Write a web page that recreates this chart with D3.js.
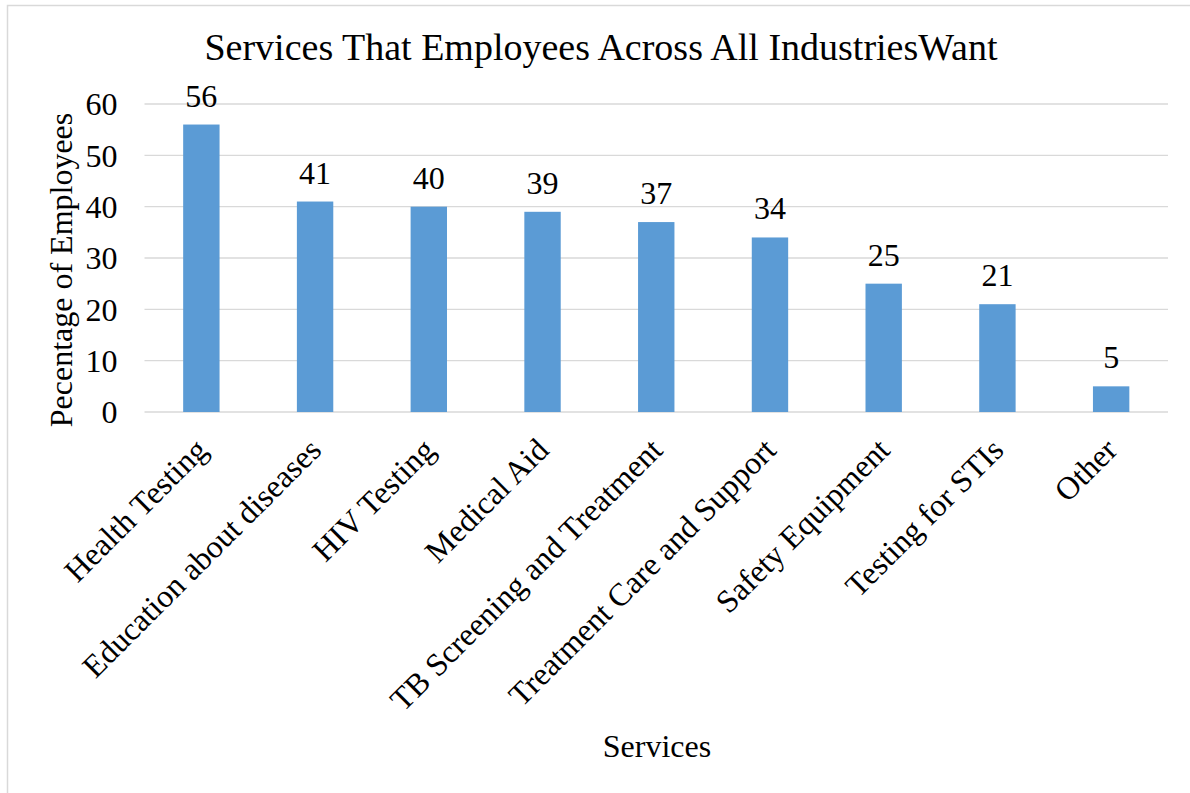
<!DOCTYPE html>
<html>
<head>
<meta charset="utf-8">
<script src="https://cdn.jsdelivr.net/npm/d3@7"></script>
<style>
  html, body { margin: 0; padding: 0; background: #fff; }
  svg { display: block; }
</style>
</head>
<body>
<svg id="chart" width="1190" height="793"></svg>
<script>
const categories = ["Health Testing", "Education about diseases", "HIV Testing", "Medical Aid",
  "TB Screening and Treatment", "Treatment Care and Support", "Safety Equipment", "Testing for STIs", "Other"];
const values = [56, 41, 40, 39, 37, 34, 25, 21, 5];
const yTicks = [0, 10, 20, 30, 40, 50, 60];
const titleText = "Services That Employees Across All IndustriesWant";
const xTitle = "Services";
const yTitle = "Pecentage of Employees";

(function () {
const FONT = '"Liberation Serif", "Times New Roman", serif';
const svg = d3.select("#chart");
const W = 1190, H = 793;
const pL = 144.5, pR = 1168, pT = 104, pB = 412;

// outer border
svg.append("rect").attr("x", 7.5).attr("y", 5.5).attr("width", W + 10).attr("height", H + 10)
  .attr("fill", "none").attr("stroke", "#d9d9d9").attr("stroke-width", 1.5);

const x = d3.scaleBand().domain(categories).range([pL, pR]).paddingInner(0.68).paddingOuter(0.34);
const y = d3.scaleLinear().domain([0, 60]).range([pB, pT]);

// gridlines
svg.append("g").selectAll("line").data(yTicks).join("line")
  .attr("x1", pL).attr("x2", pR)
  .attr("y1", d => y(d)).attr("y2", d => y(d))
  .attr("stroke", "#d9d9d9").attr("stroke-width", 1.3);

// y tick labels
const yAxis = d3.axisLeft(y).tickValues(yTicks).tickSize(0).tickPadding(0);
const gy = svg.append("g").attr("transform", `translate(${pL - 27},0)`).call(yAxis);
gy.select(".domain").remove();
gy.selectAll("text").style("font-family", FONT).style("font-size", "32px").attr("fill", "#000").attr("dy", "0.34em");

// bars
svg.append("g").selectAll("rect").data(values).join("rect")
  .attr("x", (d, i) => x(categories[i]))
  .attr("width", x.bandwidth())
  .attr("y", d => y(d))
  .attr("height", d => y(0) - y(d))
  .attr("fill", "#5b9bd5");

// data labels
svg.append("g").selectAll("text").data(values).join("text")
  .attr("x", (d, i) => x(categories[i]) + x.bandwidth() / 2)
  .attr("y", d => y(d) - 18)
  .attr("text-anchor", "middle")
  .style("font-family", FONT).style("font-size", "32px")
  .text(d => d);

// x tick labels
const xAxis = d3.axisBottom(x).tickSize(0).tickPadding(0);
const gx = svg.append("g").attr("transform", `translate(0,${pB})`).call(xAxis);
gx.select(".domain").remove();
gx.selectAll("text")
  .style("font-family", FONT).style("font-size", "32px").attr("fill", "#000")
  .attr("text-anchor", "end")
  .attr("dy", "0.35em").attr("y", 0)
  .attr("transform", "translate(0,32) rotate(-45)");

// title
svg.append("text").attr("x", 601).attr("y", 60).attr("text-anchor", "middle")
  .style("font-family", FONT).style("font-size", "38px").text(titleText);

// axis titles
svg.append("text").attr("x", 657).attr("y", 757).attr("text-anchor", "middle")
  .style("font-family", FONT).style("font-size", "32px").text(xTitle);
svg.append("text").attr("transform", "translate(72,270) rotate(-90)").attr("text-anchor", "middle")
  .style("font-family", FONT).style("font-size", "32px").text(yTitle);
})();
</script>
</body>
</html>
